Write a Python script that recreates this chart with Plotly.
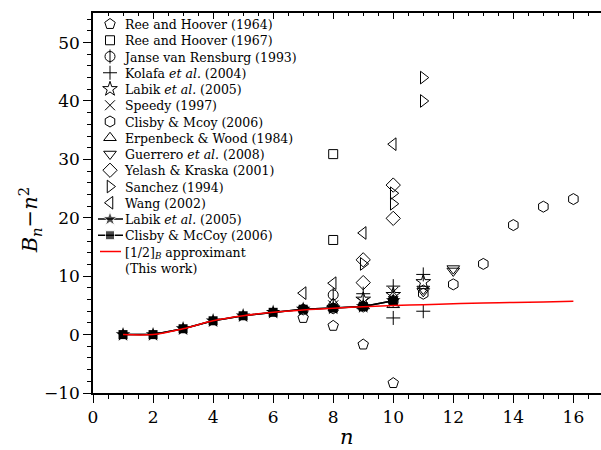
import plotly.graph_objects as go

# ---- data ----
rh64_n = [7, 8, 9, 10]
rh64_y = [2.85, 1.5, -1.7, -8.3]
rh67_n = [8, 8]
rh67_y = [30.9, 16.2]
jvr_n = [8]
jvr_y = [6.8]
kol_n = [9, 10, 10, 11, 11]
kol_y = [7.0, 8.3, 2.85, 10.3, 4.0]
lab_open_n = [9, 10, 11]
lab_open_y = [6.0, 6.8, 9.0]
spd_n = [8, 9, 10]
spd_y = [5.0, 5.4, 7.3]
clm_n = [7, 8, 9, 10, 11, 12, 13, 14, 15, 16]
clm_y = [4.3, 4.5, 4.8, 5.8, 7.0, 8.6, 12.1, 18.75, 21.9, 23.2]
ew_n = [8, 9, 10]
ew_y = [5.3, 4.9, 5.1]
gue_n = [11, 11, 12, 12]
gue_y = [7.4, 7.8, 11.3, 10.9]
yk_n = [9, 9, 10, 10]
yk_y = [12.8, 8.9, 25.6, 19.9]
san_n = [9, 10, 10, 11, 11]
san_y = [12.1, 24.2, 22.4, 44.0, 40.0]
wang_n = [7, 8, 9, 10]
wang_y = [7.1, 8.8, 17.4, 32.6]
labik_n = [1, 2, 3, 4, 5, 6, 7, 8, 9, 10]
labik_y = [0, 0, 1.0, 2.365, 3.225, 3.82, 4.34, 4.54, 4.8, 5.8]
clisby_n = [1, 2, 3, 4, 5, 6, 7, 8, 9, 10]
clisby_y = [0, 0, 1.0, 2.3648, 3.2245, 3.8154, 4.3444, 4.5375, 4.813, 5.775]
pade_n = [1, 2, 3, 4, 5, 6, 7, 8, 9, 10, 11, 12, 13, 14, 15, 16]
pade_y = [0, 0, 1.0, 2.36, 3.22, 3.82, 4.22, 4.52, 4.76, 4.96, 5.13, 5.27, 5.4, 5.5, 5.6, 5.7]

legend_labels = [
    "Ree and Hoover (1964)",
    "Ree and Hoover (1967)",
    "Janse van Rensburg (1993)",
    "Kolafa <i>et al.</i> (2004)",
    "Labik <i>et al.</i> (2005)",
    "Speedy (1997)",
    "Clisby &amp; Mcoy (2006)",
    "Erpenbeck &amp; Wood (1984)",
    "Guerrero <i>et al.</i> (2008)",
    "Yelash &amp; Kraska (2001)",
    "Sanchez (1994)",
    "Wang (2002)",
    "Labik <i>et al.</i> (2005)",
    "Clisby &amp; McCoy (2006)",
    "[1/2]<sub><i>B</i></sub> approximant<br>(This work)",
]

FONT = "DejaVu Serif"
fig = go.Figure()

open_specs = [
    (rh64_n, rh64_y, "pentagon-open", 11),
    (rh67_n, rh67_y, "square-open", 9),
    (jvr_n, jvr_y, "circle-open", 10),
    (kol_n, kol_y, "cross-thin-open", 10),
    (lab_open_n, lab_open_y, "star-open", 11),
    (spd_n, spd_y, "x-thin-open", 10),
    (clm_n, clm_y, "hexagon-open", 11),
    (ew_n, ew_y, "triangle-up-open", 11),
    (gue_n, gue_y, "triangle-down-open", 11),
    (yk_n, yk_y, "diamond-open", 11),
    (san_n, san_y, "triangle-right-open", 11),
    (wang_n, wang_y, "triangle-left-open", 11),
]

for (xs, ys, sym, size), lab in zip(open_specs, legend_labels):
    fig.add_trace(go.Scatter(
        x=xs, y=ys, mode="markers", name=lab, showlegend=False,
        marker=dict(symbol=sym, size=size, color="black",
                    line=dict(color="black", width=1))))
# vertical bar of the Janse van Rensburg symbol
fig.add_trace(go.Scatter(x=jvr_n, y=jvr_y, mode="markers", showlegend=False,
                         marker=dict(symbol="line-ns-open", size=10, color="black",
                                     line=dict(color="black", width=1))))

fig.add_trace(go.Scatter(
    x=labik_n, y=labik_y, mode="lines+markers", name=legend_labels[12], showlegend=False,
    line=dict(color="black", width=1.5),
    marker=dict(symbol="star", size=11, color="black")))
fig.add_trace(go.Scatter(
    x=clisby_n, y=clisby_y, mode="lines+markers", name=legend_labels[13], showlegend=False,
    line=dict(color="black", width=1.5),
    marker=dict(symbol="square", size=9, color="black")))
fig.add_trace(go.Scatter(
    x=pade_n, y=pade_y, mode="lines", name="[1/2]B approximant", showlegend=False,
    line=dict(color="red", width=1.5, shape="spline")))

# dummy trace for top axis
fig.add_trace(go.Scatter(x=[0], y=[0], xaxis="x2", mode="markers",
                         marker=dict(opacity=0), showlegend=False, hoverinfo="skip"))

# ---- hand-made legend on a pixel-like overlay axis ----
LEG_FS = 12.5
L_X0, L_Y0 = 110, 24
L_DY = LEG_FS * 1.3
TEXT_X = 121
for i in range(len(legend_labels)):
    yy = L_Y0 + L_DY * i
    if i < 12:
        sym, size = open_specs[i][2], open_specs[i][3]
        fig.add_trace(go.Scatter(x=[L_X0], y=[yy], xaxis="x3", yaxis="y3", mode="markers",
                                 showlegend=False, hoverinfo="skip",
                                 marker=dict(symbol=sym, size=size, color="black",
                                             line=dict(color="black", width=1))))
        if i == 2:
            fig.add_trace(go.Scatter(x=[L_X0], y=[yy], xaxis="x3", yaxis="y3", mode="markers",
                                     showlegend=False, hoverinfo="skip",
                                     marker=dict(symbol="line-ns-open", size=10, color="black",
                                                 line=dict(color="black", width=1))))
    elif i < 14:
        sym = "star" if i == 12 else "square"
        fig.add_trace(go.Scatter(x=[98, L_X0, 123], y=[yy, yy, yy], xaxis="x3", yaxis="y3",
                                 mode="lines+markers", showlegend=False, hoverinfo="skip",
                                 line=dict(color="black", width=1.5),
                                 marker=dict(symbol=sym, size=[0, 11 if i == 12 else 9, 0],
                                             color="black")))
    else:
        fig.add_trace(go.Scatter(x=[100, 121], y=[yy, yy], xaxis="x3", yaxis="y3",
                                 mode="lines", showlegend=False, hoverinfo="skip",
                                 line=dict(color="red", width=1.5)))

legend_text = "<br>".join(legend_labels)

XR = [0, 16.92]
fig.update_layout(
    width=601, height=450,
    margin=dict(l=93, r=0, t=13, b=57),
    plot_bgcolor="white", paper_bgcolor="white",
    font=dict(family=FONT, color="black", size=17),
    showlegend=False,
    xaxis=dict(range=XR, showgrid=False, zeroline=False, showline=True,
               linecolor="black", linewidth=1.5, ticks="outside", ticklen=8,
               tickwidth=1.2, tickcolor="black", dtick=2, tick0=0,
               minor=dict(ticks="outside", ticklen=4, dtick=0.5, tickcolor="black", tickwidth=1),
               tickfont=dict(size=17, family=FONT)),
    xaxis2=dict(range=XR, overlaying="x", side="top", showgrid=False, zeroline=False,
                showline=True, linecolor="black", linewidth=1.5, ticks="inside",
                ticklen=6, tickwidth=1.2, tickcolor="black", dtick=2, tick0=0,
                showticklabels=False,
                minor=dict(ticks="inside", ticklen=3, dtick=0.5, tickcolor="black", tickwidth=1)),
    xaxis3=dict(range=[93, 601], overlaying="x", anchor="y3", visible=False),
    yaxis3=dict(range=[393, 13], overlaying="y", anchor="x3", visible=False),
    yaxis=dict(range=[-10, 55.06], showgrid=False, zeroline=False, showline=True,
               linecolor="black", linewidth=1.5, ticks="outside", ticklen=8,
               tickwidth=1.2, tickcolor="black", dtick=10, tick0=0,
               minor=dict(ticks="outside", ticklen=4, dtick=2, tickcolor="black", tickwidth=1),
               tickfont=dict(size=17, family=FONT)),
    annotations=[
        dict(text=legend_text, x=TEXT_X, y=L_Y0 - L_DY / 2 - 1, xref="x3", yref="y3",
             xanchor="left", yanchor="top", showarrow=False, align="left",
             font=dict(family=FONT, size=LEG_FS)),
        dict(text="<i>n</i>", x=0.5, y=-0.115, xref="paper", yref="paper",
             showarrow=False, font=dict(size=21, family=FONT), yanchor="middle"),
        dict(text="<i>B</i><sub><i>n</i></sub>\u2212<i>n</i><sup>2</sup>", x=-0.125, y=0.453,
             xref="paper", yref="paper", showarrow=False, textangle=-90,
             xanchor="center", yanchor="middle",
             font=dict(size=21, family=FONT)),
    ],
)

fig.write_html("out.html")
